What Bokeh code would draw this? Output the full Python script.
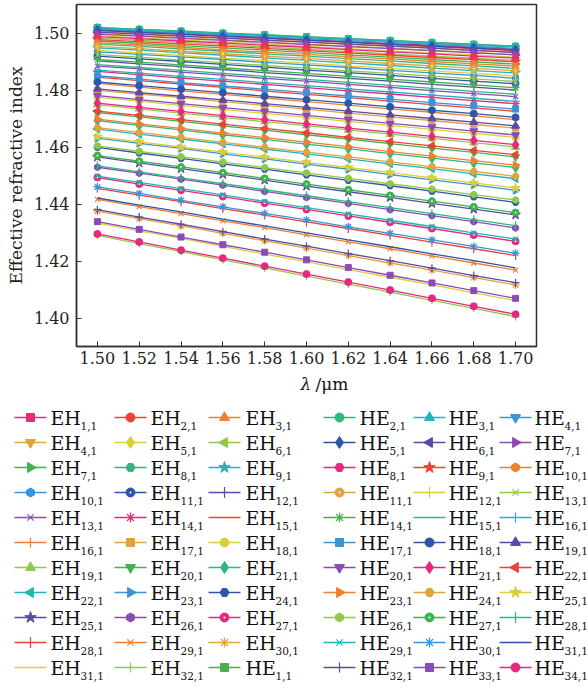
import math
from bokeh.plotting import figure
from bokeh.models import Range1d, FixedTicker, NumeralTickFormatter
from bokeh.embed import file_html
from bokeh.resources import INLINE
from bokeh.core.properties import value

# ---------------- data ----------------
WAVELENGTH = [1.50, 1.52, 1.54, 1.56, 1.58, 1.60, 1.62, 1.64, 1.66, 1.68, 1.70]
X_TICKS = [1.50, 1.52, 1.54, 1.56, 1.58, 1.60, 1.62, 1.64, 1.66, 1.68, 1.70]
Y_TICKS = [1.40, 1.42, 1.44, 1.46, 1.48, 1.50]

EH01 = [1.5012, 1.5005, 1.4998, 1.4991, 1.4984, 1.4977, 1.4970, 1.4963, 1.4957, 1.4950, 1.4943]
EH02 = [1.5009, 1.5002, 1.4995, 1.4988, 1.4981, 1.4974, 1.4967, 1.4959, 1.4952, 1.4945, 1.4938]
EH03 = [1.5004, 1.4997, 1.4990, 1.4983, 1.4975, 1.4968, 1.4961, 1.4954, 1.4947, 1.4939, 1.4932]
EH04 = [1.4998, 1.4991, 1.4984, 1.4976, 1.4969, 1.4961, 1.4954, 1.4947, 1.4939, 1.4932, 1.4924]
EH05 = [1.4991, 1.4983, 1.4976, 1.4968, 1.4961, 1.4953, 1.4945, 1.4938, 1.4930, 1.4923, 1.4915]
EH06 = [1.4982, 1.4975, 1.4967, 1.4959, 1.4951, 1.4943, 1.4935, 1.4927, 1.4919, 1.4912, 1.4904]
EH07 = [1.4972, 1.4964, 1.4956, 1.4948, 1.4940, 1.4932, 1.4923, 1.4915, 1.4907, 1.4899, 1.4891]
EH08 = [1.4961, 1.4953, 1.4944, 1.4936, 1.4927, 1.4919, 1.4910, 1.4902, 1.4893, 1.4885, 1.4876]
EH09 = [1.4948, 1.4940, 1.4931, 1.4922, 1.4913, 1.4904, 1.4895, 1.4886, 1.4877, 1.4868, 1.4860]
EH10 = [1.4934, 1.4925, 1.4916, 1.4907, 1.4897, 1.4888, 1.4879, 1.4869, 1.4860, 1.4851, 1.4841]
EH11 = [1.4919, 1.4909, 1.4900, 1.4890, 1.4880, 1.4870, 1.4861, 1.4851, 1.4841, 1.4831, 1.4822]
EH12 = [1.4902, 1.4892, 1.4882, 1.4872, 1.4861, 1.4851, 1.4841, 1.4831, 1.4820, 1.4810, 1.4800]
EH13 = [1.4884, 1.4874, 1.4863, 1.4852, 1.4841, 1.4831, 1.4820, 1.4809, 1.4798, 1.4787, 1.4777]
EH14 = [1.4865, 1.4854, 1.4842, 1.4831, 1.4820, 1.4808, 1.4797, 1.4786, 1.4774, 1.4763, 1.4752]
EH15 = [1.4845, 1.4833, 1.4821, 1.4809, 1.4797, 1.4785, 1.4773, 1.4761, 1.4749, 1.4737, 1.4725]
EH16 = [1.4823, 1.4810, 1.4797, 1.4785, 1.4772, 1.4759, 1.4747, 1.4734, 1.4722, 1.4709, 1.4696]
EH17 = [1.4799, 1.4786, 1.4773, 1.4759, 1.4746, 1.4733, 1.4719, 1.4706, 1.4693, 1.4679, 1.4666]
EH18 = [1.4775, 1.4761, 1.4746, 1.4732, 1.4718, 1.4704, 1.4690, 1.4676, 1.4662, 1.4648, 1.4634]
EH19 = [1.4749, 1.4734, 1.4719, 1.4704, 1.4689, 1.4675, 1.4660, 1.4645, 1.4630, 1.4615, 1.4600]
EH20 = [1.4721, 1.4706, 1.4690, 1.4674, 1.4659, 1.4643, 1.4628, 1.4612, 1.4596, 1.4581, 1.4565]
EH21 = [1.4693, 1.4676, 1.4660, 1.4643, 1.4627, 1.4610, 1.4594, 1.4577, 1.4561, 1.4544, 1.4528]
EH22 = [1.4663, 1.4645, 1.4628, 1.4611, 1.4593, 1.4576, 1.4558, 1.4541, 1.4524, 1.4506, 1.4489]
EH23 = [1.4631, 1.4613, 1.4595, 1.4576, 1.4558, 1.4540, 1.4522, 1.4503, 1.4485, 1.4467, 1.4448]
EH24 = [1.4599, 1.4579, 1.4560, 1.4541, 1.4522, 1.4502, 1.4483, 1.4464, 1.4445, 1.4425, 1.4406]
EH25 = [1.4565, 1.4544, 1.4524, 1.4504, 1.4484, 1.4463, 1.4443, 1.4423, 1.4402, 1.4382, 1.4362]
EH26 = [1.4529, 1.4508, 1.4487, 1.4466, 1.4444, 1.4423, 1.4402, 1.4380, 1.4359, 1.4338, 1.4316]
EH27 = [1.4493, 1.4470, 1.4448, 1.4426, 1.4403, 1.4381, 1.4358, 1.4336, 1.4314, 1.4291, 1.4269]
EH28 = [1.4455, 1.4431, 1.4408, 1.4384, 1.4361, 1.4337, 1.4314, 1.4290, 1.4266, 1.4243, 1.4219]
EH29 = [1.4416, 1.4391, 1.4366, 1.4341, 1.4317, 1.4292, 1.4267, 1.4243, 1.4218, 1.4193, 1.4168]
EH30 = [1.4375, 1.4349, 1.4323, 1.4297, 1.4271, 1.4245, 1.4219, 1.4193, 1.4168, 1.4142, 1.4116]
EH31 = [1.4333, 1.4306, 1.4279, 1.4251, 1.4224, 1.4197, 1.4170, 1.4143, 1.4116, 1.4088, 1.4061]
EH32 = [1.4290, 1.4261, 1.4233, 1.4204, 1.4176, 1.4147, 1.4119, 1.4091, 1.4062, 1.4034, 1.4005]

HE01 = [1.5020, 1.5013, 1.5007, 1.5000, 1.4994, 1.4987, 1.4980, 1.4974, 1.4967, 1.4961, 1.4954]
HE02 = [1.5019, 1.5013, 1.5006, 1.4999, 1.4993, 1.4986, 1.4980, 1.4973, 1.4966, 1.4960, 1.4953]
HE03 = [1.5017, 1.5011, 1.5004, 1.4997, 1.4991, 1.4984, 1.4977, 1.4971, 1.4964, 1.4957, 1.4951]
HE04 = [1.5014, 1.5007, 1.5000, 1.4994, 1.4987, 1.4980, 1.4973, 1.4967, 1.4960, 1.4953, 1.4946]
HE05 = [1.5009, 1.5002, 1.4996, 1.4989, 1.4982, 1.4975, 1.4968, 1.4961, 1.4954, 1.4947, 1.4940]
HE06 = [1.5003, 1.4996, 1.4989, 1.4982, 1.4975, 1.4968, 1.4961, 1.4954, 1.4947, 1.4939, 1.4932]
HE07 = [1.4996, 1.4989, 1.4981, 1.4974, 1.4967, 1.4959, 1.4952, 1.4945, 1.4938, 1.4930, 1.4923]
HE08 = [1.4987, 1.4980, 1.4972, 1.4965, 1.4957, 1.4950, 1.4942, 1.4934, 1.4927, 1.4919, 1.4912]
HE09 = [1.4977, 1.4970, 1.4962, 1.4954, 1.4946, 1.4938, 1.4930, 1.4922, 1.4914, 1.4907, 1.4899]
HE10 = [1.4966, 1.4958, 1.4950, 1.4941, 1.4933, 1.4925, 1.4917, 1.4909, 1.4900, 1.4892, 1.4884]
HE11 = [1.4953, 1.4945, 1.4936, 1.4928, 1.4919, 1.4911, 1.4902, 1.4893, 1.4885, 1.4876, 1.4868]
HE12 = [1.4939, 1.4930, 1.4921, 1.4912, 1.4903, 1.4894, 1.4885, 1.4876, 1.4867, 1.4858, 1.4849]
HE13 = [1.4924, 1.4915, 1.4905, 1.4896, 1.4886, 1.4877, 1.4867, 1.4858, 1.4849, 1.4839, 1.4830]
HE14 = [1.4907, 1.4898, 1.4888, 1.4878, 1.4868, 1.4858, 1.4848, 1.4838, 1.4828, 1.4818, 1.4808]
HE15 = [1.4889, 1.4879, 1.4869, 1.4858, 1.4848, 1.4837, 1.4827, 1.4816, 1.4806, 1.4795, 1.4785]
HE16 = [1.4870, 1.4859, 1.4848, 1.4837, 1.4826, 1.4815, 1.4804, 1.4793, 1.4782, 1.4771, 1.4760]
HE17 = [1.4850, 1.4838, 1.4826, 1.4814, 1.4803, 1.4791, 1.4779, 1.4768, 1.4756, 1.4744, 1.4733]
HE18 = [1.4828, 1.4815, 1.4803, 1.4791, 1.4778, 1.4766, 1.4754, 1.4741, 1.4729, 1.4717, 1.4704]
HE19 = [1.4804, 1.4791, 1.4778, 1.4765, 1.4752, 1.4739, 1.4726, 1.4713, 1.4700, 1.4687, 1.4674]
HE20 = [1.4780, 1.4766, 1.4752, 1.4738, 1.4725, 1.4711, 1.4697, 1.4683, 1.4670, 1.4656, 1.4642]
HE21 = [1.4754, 1.4739, 1.4725, 1.4710, 1.4696, 1.4681, 1.4666, 1.4652, 1.4637, 1.4623, 1.4608]
HE22 = [1.4726, 1.4711, 1.4696, 1.4680, 1.4665, 1.4650, 1.4634, 1.4619, 1.4604, 1.4588, 1.4573]
HE23 = [1.4698, 1.4681, 1.4665, 1.4649, 1.4633, 1.4617, 1.4601, 1.4584, 1.4568, 1.4552, 1.4536]
HE24 = [1.4668, 1.4651, 1.4634, 1.4616, 1.4599, 1.4582, 1.4565, 1.4548, 1.4531, 1.4514, 1.4497]
HE25 = [1.4636, 1.4618, 1.4600, 1.4582, 1.4564, 1.4546, 1.4528, 1.4510, 1.4492, 1.4474, 1.4456]
HE26 = [1.4604, 1.4585, 1.4566, 1.4547, 1.4528, 1.4509, 1.4490, 1.4471, 1.4452, 1.4433, 1.4414]
HE27 = [1.4570, 1.4550, 1.4530, 1.4510, 1.4490, 1.4470, 1.4450, 1.4430, 1.4410, 1.4390, 1.4370]
HE28 = [1.4534, 1.4513, 1.4492, 1.4471, 1.4450, 1.4429, 1.4408, 1.4387, 1.4366, 1.4345, 1.4324]
HE29 = [1.4498, 1.4476, 1.4454, 1.4432, 1.4409, 1.4387, 1.4365, 1.4343, 1.4321, 1.4299, 1.4277]
HE30 = [1.4460, 1.4437, 1.4413, 1.4390, 1.4367, 1.4344, 1.4320, 1.4297, 1.4274, 1.4251, 1.4227]
HE31 = [1.4421, 1.4396, 1.4372, 1.4347, 1.4323, 1.4299, 1.4274, 1.4250, 1.4225, 1.4201, 1.4176]
HE32 = [1.4380, 1.4354, 1.4329, 1.4303, 1.4277, 1.4252, 1.4226, 1.4201, 1.4175, 1.4149, 1.4124]
HE33 = [1.4338, 1.4311, 1.4284, 1.4257, 1.4231, 1.4204, 1.4177, 1.4150, 1.4123, 1.4096, 1.4069]
HE34 = [1.4295, 1.4267, 1.4238, 1.4210, 1.4182, 1.4154, 1.4126, 1.4098, 1.4069, 1.4041, 1.4013]

EH_SERIES = [EH01, EH02, EH03, EH04, EH05, EH06, EH07, EH08, EH09, EH10, EH11, EH12, EH13, EH14, EH15, EH16,
             EH17, EH18, EH19, EH20, EH21, EH22, EH23, EH24, EH25, EH26, EH27, EH28, EH29, EH30, EH31, EH32]
HE_SERIES = [HE01, HE02, HE03, HE04, HE05, HE06, HE07, HE08, HE09, HE10, HE11, HE12, HE13, HE14, HE15, HE16, HE17,
             HE18, HE19, HE20, HE21, HE22, HE23, HE24, HE25, HE26, HE27, HE28, HE29, HE30, HE31, HE32, HE33, HE34]
EH_NAMES = ["EH"] * 32
EH_SUBS = ["%d,1" % i for i in range(1, 33)]
HE_NAMES = ["HE"] * 34
HE_SUBS = ["%d,1" % i for i in range(1, 35)]

SERIES = EH_SERIES + HE_SERIES
NAMES = EH_NAMES + HE_NAMES
SUBS = EH_SUBS + HE_SUBS

# ---------------- styles ----------------
PALETTE = ["#e5297e", "#ef4136", "#f07f32", "#e2a23c", "#d9cf3a", "#8fc84a", "#3fb34f",
           "#2db87d", "#1fb5b9", "#3a94d6", "#2e56a8", "#5b4aa6", "#8b4bb5"]
MARKERS = ["square", "circle", "triangle", "inverted_triangle", "diamond", "tri_left", "tri_right",
           "hex", "star", "pent", "sphere", "vbar", "x", "asterisk", None, "cross"]
FONT = "DejaVu Serif"


def draw_marker(fig, xs, ys, kind, color, s):
    if kind is None:
        return
    filled = dict(fill_color=color, line_color=color, line_width=1)
    if kind == "square":
        fig.scatter(xs, ys, marker="square", size=s - 1, **filled)
    elif kind == "circle":
        fig.scatter(xs, ys, marker="circle", size=s, **filled)
    elif kind == "triangle":
        fig.scatter(xs, ys, marker="triangle", size=s + 1, **filled)
    elif kind == "inverted_triangle":
        fig.scatter(xs, ys, marker="inverted_triangle", size=s + 1, **filled)
    elif kind == "diamond":
        fig.scatter(xs, ys, marker="diamond", size=s + 3, **filled)
    elif kind == "tri_left":
        fig.scatter(xs, ys, marker="triangle", angle=math.pi / 2, size=s + 1, **filled)
    elif kind == "tri_right":
        fig.scatter(xs, ys, marker="triangle", angle=-math.pi / 2, size=s + 1, **filled)
    elif kind == "hex":
        fig.scatter(xs, ys, marker="hex", size=s, **filled)
    elif kind == "pent":
        fig.scatter(xs, ys, marker="hex", angle=math.pi / 2, size=s, **filled)
    elif kind == "star":
        fig.scatter(xs, ys, marker="star", size=s + 3, **filled)
    elif kind == "sphere":
        fig.scatter(xs, ys, marker="circle", size=s, **filled)
        fig.scatter(xs, ys, marker="circle", size=max(1.8, s * 0.22), fill_color="white", line_color=None)
    elif kind == "vbar":
        fig.scatter(xs, ys, marker="dash", angle=math.pi / 2, size=s + 2, line_color=color, line_width=1.2)
    elif kind == "x":
        fig.scatter(xs, ys, marker="x", size=s, line_color=color, line_width=1.2)
    elif kind == "asterisk":
        fig.scatter(xs, ys, marker="asterisk", size=s + 1, line_color=color, line_width=1.2)
    elif kind == "cross":
        fig.scatter(xs, ys, marker="cross", size=s + 1, line_color=color, line_width=1.2)


# ---------------- main plot ----------------
W = 588
H1 = 370
p = figure(width=W, height=H1, x_range=Range1d(1.49, 1.71), y_range=Range1d(1.39, 1.51),
           output_backend="svg", toolbar_location=None,
           min_border_left=76, min_border_right=52, min_border_top=4, min_border_bottom=24,
           background_fill_color="white", border_fill_color="white")
p.xgrid.visible = False
p.ygrid.visible = False
p.outline_line_color = "#333333"
p.outline_line_width = 1.5

for i, vals in enumerate(SERIES):
    color = PALETTE[i % 13]
    kind = MARKERS[i % 16]
    p.line(WAVELENGTH, vals, line_color=color, line_width=1.3)
    draw_marker(p, WAVELENGTH, vals, kind, color, 7)

for ax in (p.xaxis[0], p.yaxis[0]):
    ax.major_tick_in = 5
    ax.major_tick_out = 0
    ax.minor_tick_line_color = None
    ax.axis_line_color = "#333333"
    ax.axis_line_width = 1.5
    ax.major_tick_line_color = "#333333"
    ax.major_label_text_font = FONT
    ax.major_label_text_font_size = "16px"
    ax.major_label_text_color = "#222222"
    ax.formatter = NumeralTickFormatter(format="0.00")

p.xaxis[0].ticker = FixedTicker(ticks=X_TICKS)
p.yaxis[0].ticker = FixedTicker(ticks=Y_TICKS)
p.xaxis[0].major_label_standoff = 5
p.yaxis[0].major_label_standoff = 7
p.yaxis[0].axis_label = "Effective refractive index"
p.yaxis[0].axis_label_text_font = FONT
p.yaxis[0].axis_label_text_font_size = "17px"
p.yaxis[0].axis_label_text_font_style = "normal"
p.yaxis[0].axis_label_text_color = "#222222"
p.yaxis[0].axis_label_standoff = 5

# ---------------- legend + x label panel (page-pixel coordinates) ----------------
H2 = 694 - H1
q = figure(width=W, height=H2, x_range=Range1d(0, W), y_range=Range1d(694, H1),
           output_backend="svg", toolbar_location=None, min_border=0,
           x_axis_type=None, y_axis_type=None,
           background_fill_color="white", border_fill_color="white")
q.xgrid.visible = False
q.ygrid.visible = False
q.outline_line_color = None

q.text(x=[300], y=[383], text=["λ"], text_font=value(FONT), text_font_size="17px",
       text_font_style="italic", text_baseline="middle", text_align="left", text_color="#111111")
q.text(x=[315], y=[383], text=["/μm"], text_font=value(FONT), text_font_size="17px",
       text_baseline="middle", text_align="left", text_color="#111111")

LINE_X = [[14, 114, 208], [323, 413, 499]]
TEXT_X = [[50, 150, 245], [359, 448, 534]]
ROW0 = 417
ROW_STEP = 25

main_x, main_y, main_t, sub_x, sub_y, sub_t = [], [], [], [], [], []
for i in range(len(SERIES)):
    color = PALETTE[i % 13]
    kind = MARKERS[i % 16]
    block = i // 33
    j = i % 33
    row, col = j // 3, j % 3
    y = ROW0 + ROW_STEP * row
    lx = LINE_X[block][col]
    q.line([lx, lx + 32], [y, y], line_color=color, line_width=1.6)
    draw_marker(q, [lx + 16], [y], kind, color, 9)
    tx = TEXT_X[block][col]
    main_x.append(tx)
    main_y.append(y)
    main_t.append(NAMES[i])
    sub_x.append(tx + 30)
    sub_y.append(y + 8)
    sub_t.append(SUBS[i])

q.text(x=main_x, y=main_y, text=main_t, text_font=value(FONT), text_font_size="19px",
       text_baseline="middle", text_align="left", text_color="#111111")
q.text(x=sub_x, y=sub_y, text=sub_t, text_font=value(FONT), text_font_size="10.5px",
       text_baseline="middle", text_align="left", text_color="#111111")

open("out.html", "w").write(file_html([p, q], INLINE))
